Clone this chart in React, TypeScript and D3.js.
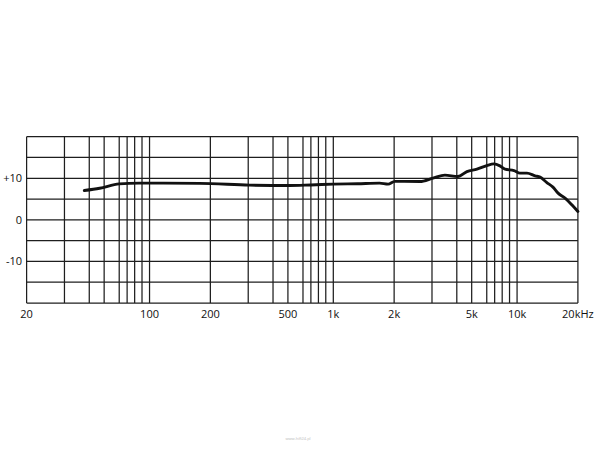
import React from "react";
import * as d3 from "d3";

// ---- data ----
const freqHz = [38, 47, 60, 86, 182, 306, 512, 700, 1000, 1400, 1760, 1900, 2020, 2680, 3040, 3520, 4070, 4680, 5350, 6000, 6900, 7700, 8380, 9590, 10480, 11630, 12960, 13780, 14900, 15900, 16740, 17890, 19000, 20000];
const levelDb = [7.05, 7.6, 8.66, 8.83, 8.78, 8.35, 8.25, 8.4, 8.59, 8.7, 8.83, 8.59, 9.26, 9.21, 10.03, 10.75, 10.41, 11.62, 12.19, 13.06, 13.47, 12.99, 12.19, 11.86, 11.23, 11.23, 10.58, 10.27, 8.97, 7.87, 6.42, 5.22, 3.61, 2.0];

const gridFreqs = [20, 30, 40, 50, 60, 70, 80, 90, 100, 200, 300, 400, 500, 600, 700, 800, 900, 1000, 2000, 3000, 4000, 5000, 6000, 7000, 8000, 9000, 10000, 20000];
const xTickValues = [20, 100, 200, 500, 1000, 2000, 5000, 10000, 20000];
const xTickLabels = ["20", "100", "200", "500", "1k", "2k", "5k", "10k", "20kHz"];
const gridDb = [-20, -15, -10, -5, 0, 5, 10, 15, 20];
const yTickValues = [10, 0, -10];
const yTickLabels = ["+10", "0", "-10"];

// chart-paper spacing of the lines inside one decade (1..10)
const decadeSteps = [0, 0.331, 0.537, 0.672, 0.753, 0.835, 0.878, 0.919, 0.959, 1];

const W = 600;
const H = 450;
const left = 26.6;
const right = 577.9;
const top = 136.7;
const bottom = 303;

function paperPos(f: number): number {
  const k = Math.floor(Math.log10(f) + 1e-9);
  const m = f / Math.pow(10, k);
  const i = Math.min(Math.floor(m + 1e-9), 9);
  const frac = decadeSteps[i - 1] + (m - i) * (decadeSteps[i] - decadeSteps[i - 1]);
  return k + frac;
}

export default function App() {
  const p0 = paperPos(20);
  const p1 = paperPos(20000);
  const pos = d3.scaleLinear().domain([p0, p1]).range([left, right]);
  const x = d3
    .scaleLinear()
    .domain(gridFreqs)
    .range(gridFreqs.map((f) => pos(paperPos(f))));
  const y = d3.scaleLinear().domain([-20, 20]).range([bottom, top]);

  const pts: [number, number][] = freqHz.map((f, i) => [x(f), y(levelDb[i])]);
  const line = d3.line().curve(d3.curveMonotoneX)(pts) || "";

  const gridColor = "#1e1e1e";
  const font = "'Open Sans', 'DejaVu Sans', sans-serif";

  return (
    <svg
      width={W}
      height={H}
      style={{ position: "absolute", left: 0, top: 0, background: "#fff" }}
    >
      <rect x={0} y={0} width={W} height={H} fill="#fff" />
      <g stroke={gridColor} strokeWidth={1.25} fill="none">
        {gridDb.map((d) => (
          <line key={"h" + d} x1={left} x2={right} y1={y(d)} y2={y(d)} />
        ))}
        {gridFreqs.map((f) => (
          <line key={"v" + f} x1={x(f)} x2={x(f)} y1={top} y2={bottom} />
        ))}
      </g>
      <path
        d={line}
        fill="none"
        stroke="#111"
        strokeWidth={2.9}
        strokeLinejoin="round"
        strokeLinecap="round"
      />
      <g fontFamily={font} fontSize={11} fill="#111">
        {yTickValues.map((v, i) => (
          <text key={"yl" + v} x={22} y={y(v) + 4} textAnchor="end">
            {yTickLabels[i]}
          </text>
        ))}
        {xTickValues.map((v, i) => (
          <text key={"xl" + v} x={x(v)} y={318} textAnchor="middle">
            {xTickLabels[i]}
          </text>
        ))}
      </g>
      <text
        x={298}
        y={440}
        textAnchor="middle"
        fontFamily={font}
        fontSize={4}
        fill="#bbb"
      >
        www.hifi24.pl
      </text>
    </svg>
  );
}
